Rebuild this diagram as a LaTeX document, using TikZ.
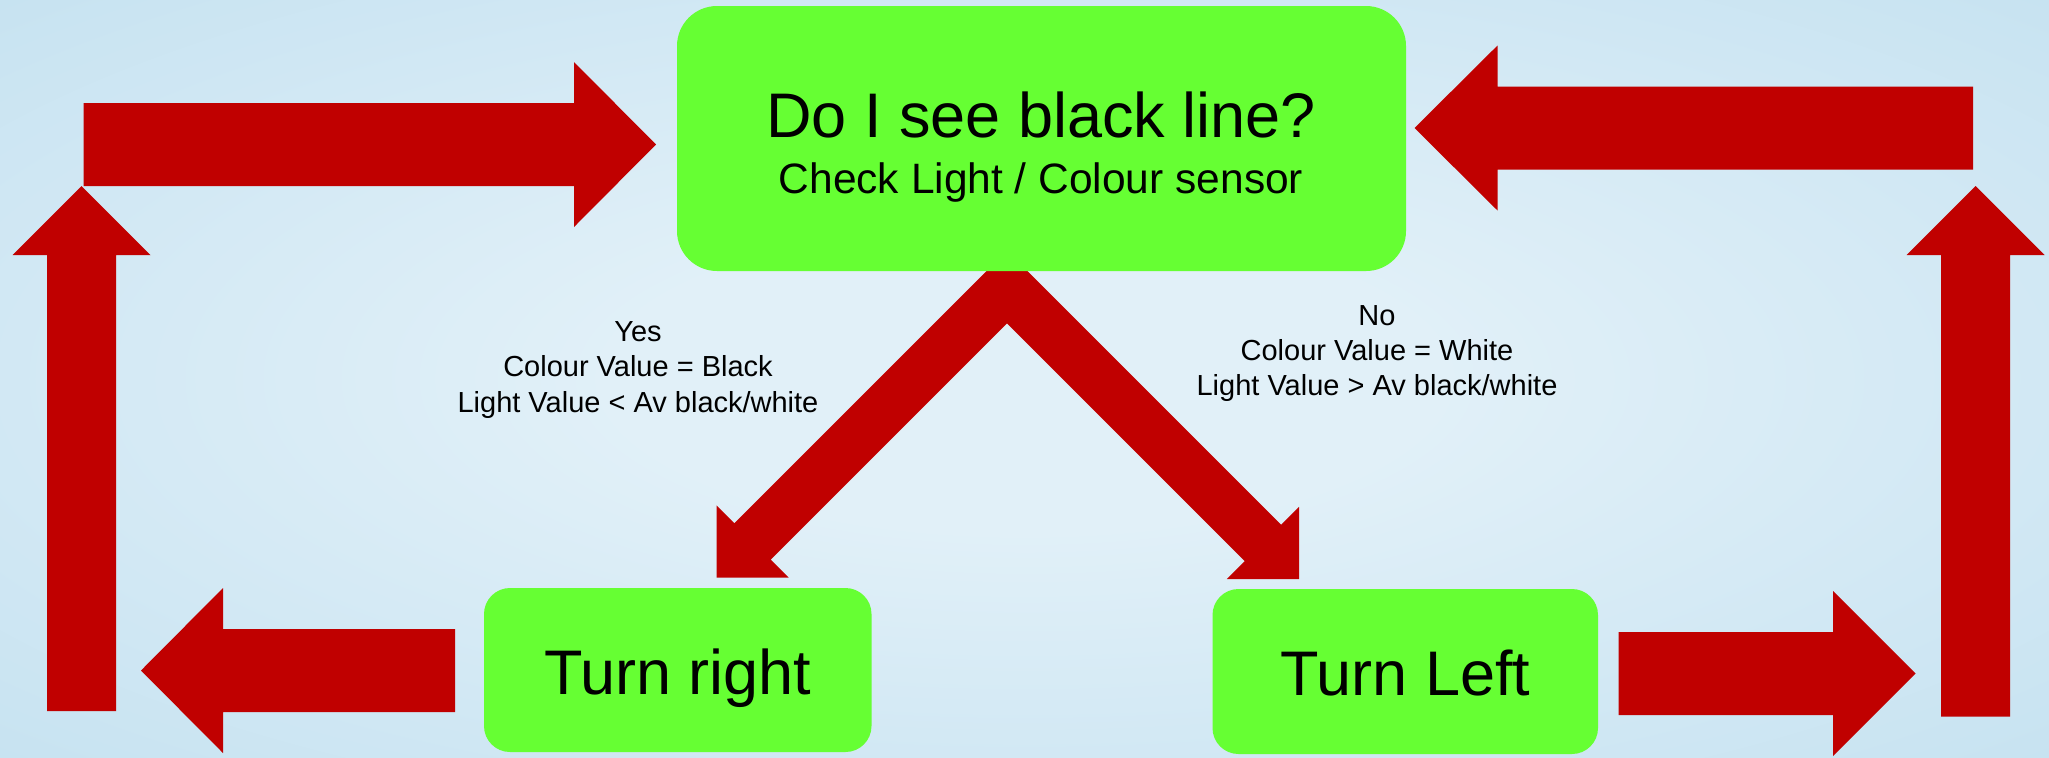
\documentclass[tikz,border=0pt]{standalone}
\usepackage{fontspec}
\setmainfont{Liberation Sans}
\definecolor{arrowred}{RGB}{192,0,0}
\definecolor{boxgreen}{RGB}{102,255,51}
\definecolor{bgin}{RGB}{225,240,248}
\definecolor{bgout}{RGB}{184,219,237}
\pgfdeclareradialshading{bgshade}{\pgfpoint{0bp}{0bp}}{color(0bp)=(bgin); color(10bp)=(bgin); color(50bp)=(bgout)}
\begin{document}
\begin{tikzpicture}[x=0.5pt,y=-0.5pt,
  blockarrow/.style={fill=arrowred, draw=none},
  greenbox/.style={draw=none, fill=boxgreen, rounded corners=13pt, inner sep=0pt},
  bigtext/.style={font=\fontsize{31.5}{38}\selectfont, text height=24pt, text depth=0pt},
  cond/.style={font=\fontsize{14.5}{17}\selectfont, anchor=base, inner sep=0pt}]
\useasboundingbox (0,0) rectangle (2049,757);
\shade[shading=bgshade] (0,0) rectangle (2049,757);

% loop arrows
\fill[blockarrow] (83.5,103) -- (574,103) -- (574,62) -- (656,144.5) -- (574,227) -- (574,186) -- (83.5,186) -- cycle;
\fill[blockarrow] (47,711) -- (47,255) -- (12.5,255) -- (81.5,186) -- (150.5,255) -- (116,255) -- (116,711) -- cycle;
\fill[blockarrow] (1973,86.5) -- (1497.5,86.5) -- (1497.5,45.5) -- (1414.5,128) -- (1497.5,210.5) -- (1497.5,169.5) -- (1973,169.5) -- cycle;
\fill[blockarrow] (1941,716.5) -- (1941,255) -- (1906.5,255) -- (1975.5,186) -- (2044.5,255) -- (2010,255) -- (2010,716.5) -- cycle;
\fill[blockarrow] (455,629) -- (223,629) -- (223,588) -- (141,670.5) -- (223,753) -- (223,712) -- (455,712) -- cycle;
\fill[blockarrow] (1618.5,632) -- (1833,632) -- (1833,591) -- (1915.5,673.5) -- (1833,756) -- (1833,715) -- (1618.5,715) -- cycle;

% decision V arrows
\fill[blockarrow] (1007,250.65) -- (734.39,523.27) -- (716.5,505.38) -- (716.5,577.5) -- (788.62,577.5) -- (770.73,559.61) -- (1007,323.35) -- (1244.77,561.11) -- (1226.88,579) -- (1299,579) -- (1299,506.88) -- (1281.11,524.77) -- cycle;

% boxes
\node[greenbox, rounded corners=20pt, minimum width=364.5pt, minimum height=132.5pt] (check) at (1041.5,138.5) {};
\node[anchor=base, inner sep=0pt, font=\fontsize{31.5}{38}\selectfont] (checktitle) at (1041,137) {Do I see black line?};
\node[anchor=base, inner sep=0pt, font=\fontsize{21.25}{25}\selectfont] (checksub) at (1041,193) {Check Light / Colour sensor};

\node[greenbox, bigtext, minimum width=193.75pt, minimum height=82pt] (turnright) at (677.75,670) {Turn right};
\node[greenbox, bigtext, minimum width=192.75pt, minimum height=82.5pt] (turnleft) at (1405.25,671.5) {Turn Left};

% condition labels
\node[cond] (yes1) at (638,341.7) {Yes};
\node[cond] (yes2) at (638,376.7) {Colour Value = Black};
\node[cond] (yes3) at (638,412) {Light Value < Av black/white};
\node[cond] (no1) at (1377,325) {No};
\node[cond] (no2) at (1377,360) {Colour Value = White};
\node[cond] (no3) at (1377,395) {Light Value > Av black/white};
\end{tikzpicture}
\end{document}
